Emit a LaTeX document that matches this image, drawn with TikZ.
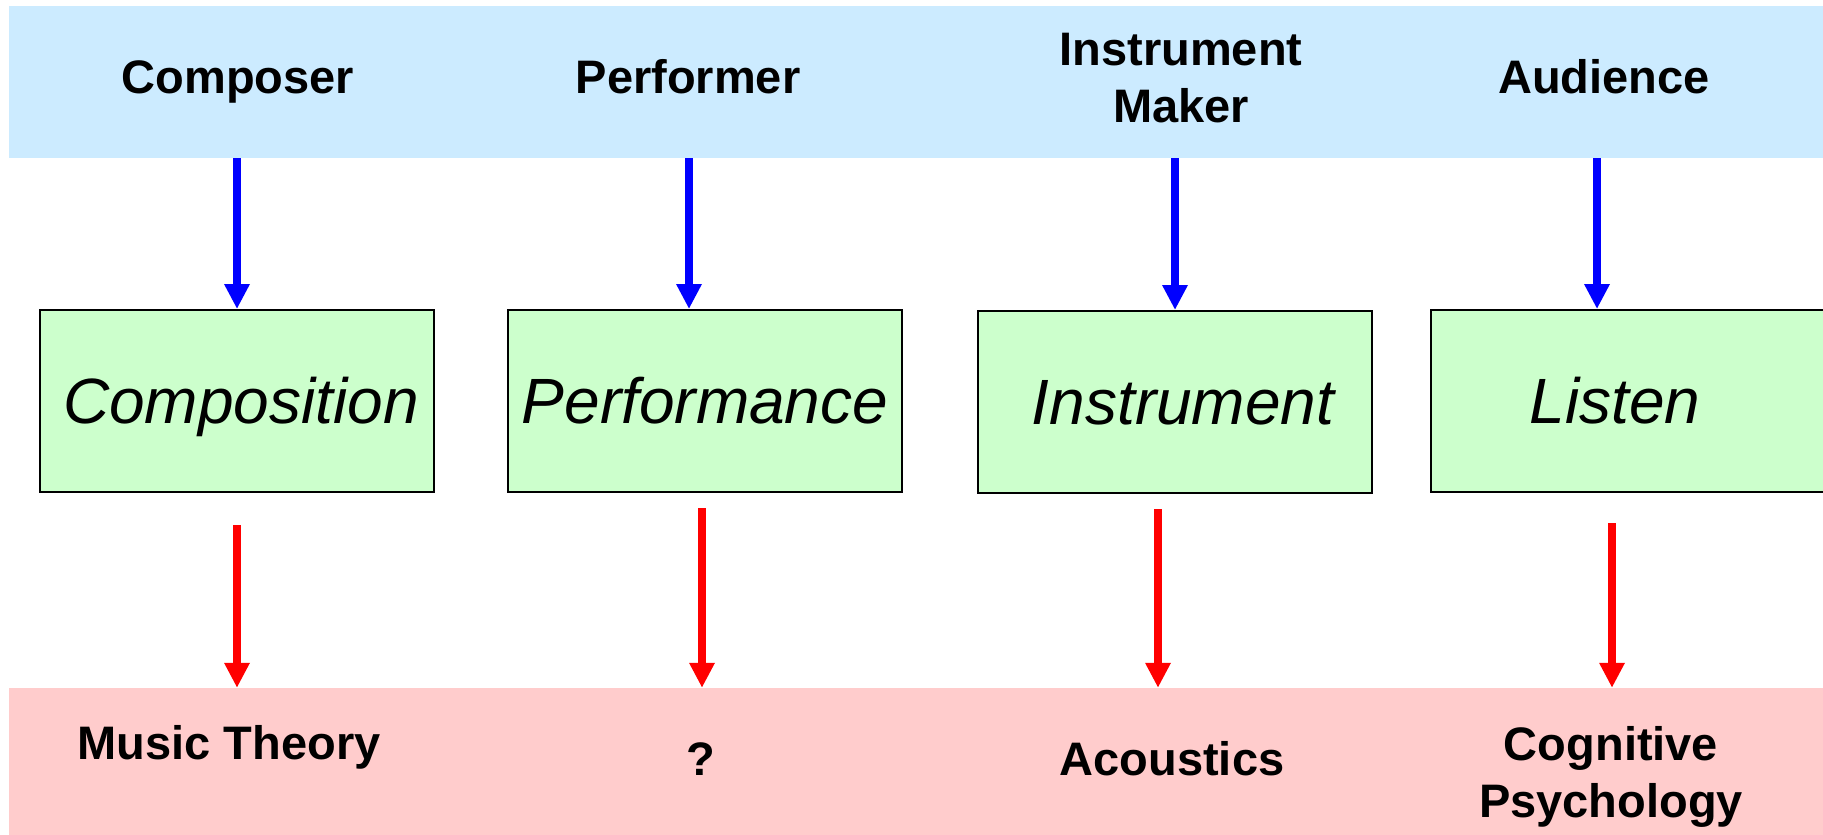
\documentclass[tikz,border=0pt]{standalone}
\usepackage{fontspec}
\setmainfont{Liberation Sans}
\usetikzlibrary{arrows.meta}
\definecolor{bandblue}{RGB}{204,235,255}
\definecolor{boxgreen}{RGB}{204,255,204}
\definecolor{bandpink}{RGB}{255,204,204}

\begin{document}
\begin{tikzpicture}[x=1pt,y=-1pt,
  band/.style={draw=none, inner sep=0pt, minimum width=1821pt},
  role/.style={font=\fontsize{47}{57}\selectfont\bfseries, align=center, anchor=base, inner sep=0pt},
  task/.style={draw=black, line width=2pt, fill=boxgreen, minimum width=394pt,
    minimum height=182pt, inner sep=0pt, text height=44pt, text depth=0pt,
    font=\fontsize{64}{70}\selectfont\itshape},
  bluearr/.style={draw=blue, line width=8pt, -{Triangle[width=24pt,length=25pt]}},
  redarr/.style={draw=red, line width=8pt, -{Triangle[width=24pt,length=25pt]}},
]
\useasboundingbox (0,0) rectangle (1823,835);

% coloured bands
\node[band, fill=bandblue, minimum height=152pt] (topband) at (919.5,82) {};
\node[band, fill=bandpink, minimum height=154pt] (botband) at (919.5,765) {};

% roles (base anchor = baseline of the last line)
\node[role] (composer)  at (238,93)  {Composer};
\node[role] (performer) at (688,93)  {Performer};
\node[role] (maker)     at (1181,122) {Instrument\\Maker};
\node[role] (audience)  at (1604,93) {Audience};

% activities
\node[task] (comp)   at (237,401)  {\kern8pt Composition};
\node[task] (perf)   at (705,401)  {Performance};
\node[task] (inst)   at (1175,402) {\kern16pt Instrument};
\node[task] (listen) at (1628,401) {Listen\kern26pt};

% fields of study
\node[role] (theory)    at (229,759)  {Music Theory};
\node[role] (unknown)   at (701,775)  {?};
\node[role] (acoustics) at (1172,775) {Acoustics};
\node[role] (cogpsy)    at (1611,817) {Cognitive\\Psychology};

% role -> activity
\draw[bluearr] (comp.north |- topband.south) -- (comp.north);
\draw[bluearr] ([xshift=-16pt]perf.north |- topband.south) -- ([xshift=-16pt]perf.north);
\draw[bluearr] (inst.north |- topband.south) -- (inst.north);
\draw[bluearr] ([xshift=-31pt]listen.north |- topband.south) -- ([xshift=-31pt]listen.north);

% activity -> field
\draw[redarr] ([yshift=-32pt]comp.south) -- (comp.south |- botband.north);
\draw[redarr] ([xshift=-3pt,yshift=-15pt]perf.south) -- ([xshift=-3pt]perf.south |- botband.north);
\draw[redarr] ([xshift=-17pt,yshift=-15pt]inst.south) -- ([xshift=-17pt]inst.south |- botband.north);
\draw[redarr] ([xshift=-16pt,yshift=-30pt]listen.south) -- ([xshift=-16pt]listen.south |- botband.north);
\end{tikzpicture}
\end{document}
